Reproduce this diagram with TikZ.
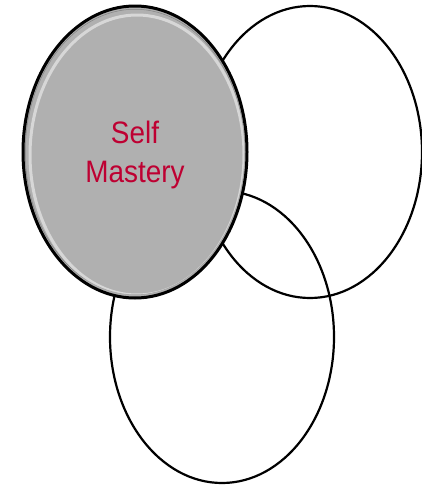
\documentclass[tikz,border=0pt]{standalone}
\usepackage{fontspec}
\setmainfont[FakeStretch=0.9]{Liberation Sans}
\usetikzlibrary{shapes.geometric}
\definecolor{crimson}{RGB}{190,0,50}
\definecolor{discgray}{RGB}{176,176,176}
\tikzset{
  ring/.style={ellipse, draw=black, line width=2.2pt, inner sep=0pt,
    minimum width=224pt, minimum height=292pt},
  disc/.style={ring, line width=3pt, fill=discgray}
}
\begin{document}
\begin{tikzpicture}[x=1pt,y=-1pt]
\useasboundingbox (0,0) rectangle (422,490);
\node[ring] (right) at (310,152) {};
\node[ring] (bottom) at (222,337) {};
\node[disc] (self) at (135,152) {};
\begin{scope}
  \clip (135,152) ellipse [x radius=110, y radius=143];
  \draw[white, opacity=0.5, line width=3pt] (137,155) ellipse [x radius=107, y radius=140];
  \draw[black, opacity=0.25, line width=3pt] (135,152) ellipse [x radius=111, y radius=144];
\end{scope}
\node[text=crimson, font=\fontsize{31}{39}\selectfont, align=center] (label) at (135,155) {Self\\Mastery};
\end{tikzpicture}
\end{document}
